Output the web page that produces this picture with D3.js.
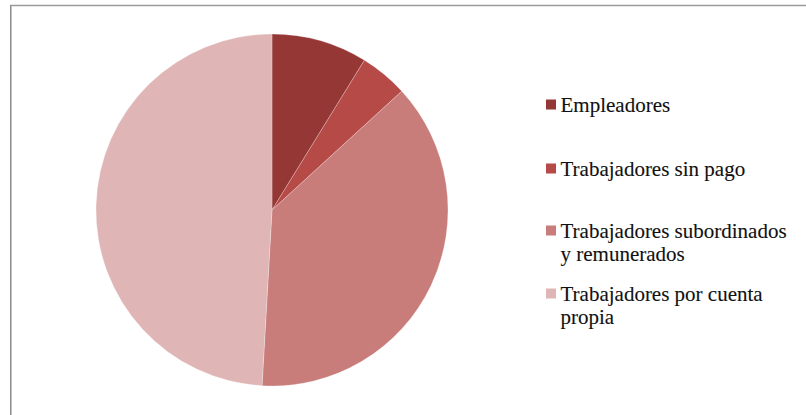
<!DOCTYPE html>
<html>
<head>
<meta charset="utf-8">
<script src="https://cdn.jsdelivr.net/npm/d3@7"></script>
<style>
  html, body { margin: 0; padding: 0; background: #fff; }
  svg { display: block; }
  .legend text {
    font-family: "Liberation Serif", "Times New Roman", Times, "DejaVu Serif", serif;
    font-size: 21px; fill: #111; stroke: #111; stroke-width: 0.12px;
  }
</style>
</head>
<body>
<svg id="chart" width="806" height="415"></svg>
<script>
// Distribución de la población ocupada por posición en el trabajo (%)
const categories = [
  "Empleadores",
  "Trabajadores sin pago",
  "Trabajadores subordinados y remunerados",
  "Trabajadores por cuenta propia"
];
const values = [8.8, 4.4, 37.7, 49.1];
const colors = ["#953735", "#B54A47", "#C97D7B", "#DFB6B5"];
// Legend text broken into display lines
const legendLines = [
  ["Empleadores"],
  ["Trabajadores sin pago"],
  ["Trabajadores subordinados", "y remunerados"],
  ["Trabajadores por cuenta", "propia"]
];

const svg = d3.select("#chart");

// frame lines (top and left edges)
svg.append("line")
  .attr("x1", 10).attr("x2", 806).attr("y1", 5.5).attr("y2", 5.5)
  .attr("stroke", "#9a9a9a").attr("stroke-width", 1.5);
svg.append("line")
  .attr("x1", 10.5).attr("x2", 10.5).attr("y1", 5).attr("y2", 415)
  .attr("stroke", "#8c8c8c").attr("stroke-width", 1);
svg.append("line")
  .attr("x1", 11.5).attr("x2", 11.5).attr("y1", 6).attr("y2", 415)
  .attr("stroke", "#c4c4c4").attr("stroke-width", 1);

const cx = 272, cy = 210, radius = 176;

const pie = d3.pie().sort(null).value(d => d)
  .startAngle(0).endAngle(2 * Math.PI);
const arc = d3.arc().innerRadius(0).outerRadius(radius);

const g = svg.append("g").attr("transform", `translate(${cx},${cy})`);
g.selectAll("path")
  .data(pie(values))
  .join("path")
  .attr("d", arc)
  .attr("fill", (d, i) => colors[i])
  .attr("stroke", "rgba(255,255,255,0.35)")
  .attr("stroke-width", 0.7);

// legend
const legendX = 546;
const baselines = [112, 176, 238, 301];
const lineH = 23.3;
const legend = svg.append("g").attr("class", "legend");

categories.forEach((c, i) => {
  const row = legend.append("g");
  row.append("rect")
    .attr("x", legendX).attr("y", baselines[i] - 12.5)
    .attr("width", 10).attr("height", 10)
    .attr("fill", colors[i]);
  const t = row.append("text")
    .attr("x", legendX + 14.5).attr("y", baselines[i]);
  legendLines[i].forEach((ln, j) => {
    t.append("tspan")
      .attr("x", legendX + 14.5)
      .attr("y", baselines[i] + j * lineH)
      .text(ln);
  });
});
</script>
</body>
</html>
